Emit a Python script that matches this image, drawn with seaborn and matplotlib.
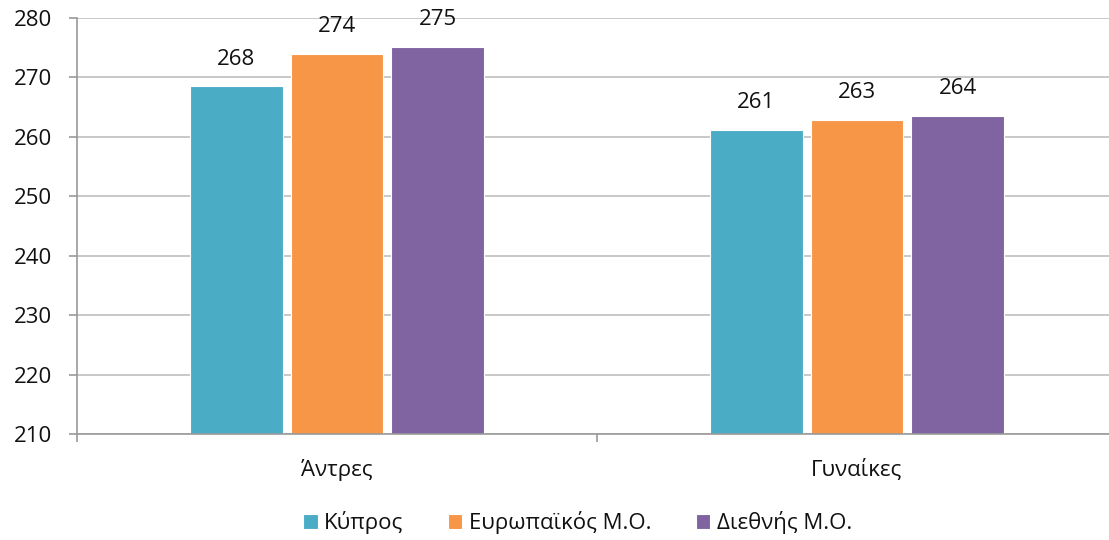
import matplotlib
matplotlib.use('Agg')
import matplotlib.pyplot as plt
import seaborn as sns
import pandas as pd

sns.set_style('white')
plt.rcParams['font.family'] = ['Open Sans', 'DejaVu Sans']

groups = ['Άντρες', 'Γυναίκες']
series = ['Κύπρος', 'Ευρωπαϊκός Μ.Ο.', 'Διεθνής Μ.Ο.']
values = {
    'Κύπρος': [268.5, 261.2],
    'Ευρωπαϊκός Μ.Ο.': [274.0, 262.9],
    'Διεθνής Μ.Ο.': [275.2, 263.5],
}
labels = {
    'Κύπρος': ['268', '261'],
    'Ευρωπαϊκός Μ.Ο.': ['274', '263'],
    'Διεθνής Μ.Ο.': ['275', '264'],
}
colors = ['#4BACC6', '#F79646', '#8064A2']

rows = []
for s in series:
    for g, v in zip(groups, values[s]):
        rows.append({'group': g, 'series': s, 'value': v})
df = pd.DataFrame(rows)

fig = plt.figure(figsize=(11.09, 5.4), dpi=100)
# plot area runs slightly past the right edge, as in the original
ax = fig.add_axes([0.0694, 0.1963, 0.9378, 0.7704])

sns.barplot(data=df, x='group', y='value', hue='series', hue_order=series,
            palette=colors, saturation=1, width=0.58, gap=0.08,
            edgecolor='white', linewidth=0.8, ax=ax, legend=True)

for cont, s in zip(ax.containers, series):
    ax.bar_label(cont, labels=labels[s], padding=12, fontsize=16, color='#111111')

ax.set_ylim(210, 280)
ax.set_yticks(range(210, 281, 10))
ax.set_xlim(-0.5, 1.5)
ax.set_xlabel('')
ax.set_ylabel('')
ax.yaxis.grid(True, color='#BFBFBF', linewidth=1.2)
ax.set_axisbelow(True)
for side in ['top', 'right']:
    ax.spines[side].set_visible(False)
for side in ['left', 'bottom']:
    ax.spines[side].set_color('#999999')
    ax.spines[side].set_linewidth(1.2)

ax.tick_params(axis='y', which='major', direction='out', length=6, width=1.2,
               color='#999999', labelsize=16, labelcolor='#111111', left=True, pad=12)
ax.set_xticks([0, 1])
ax.set_xticklabels(groups)
ax.tick_params(axis='x', which='major', length=0, labelsize=16,
               labelcolor='#111111', pad=18)
ax.set_xticks([-0.5, 0.5, 1.5], minor=True)
ax.tick_params(axis='x', which='minor', direction='out', length=6, width=1.2,
               color='#999999', bottom=True)

handles, lbls = ax.get_legend_handles_labels()
leg = ax.legend(handles, lbls, loc='center', ncol=3, frameon=False, fontsize=16,
                handlelength=0.65, handleheight=0.65, handletextpad=0.3,
                columnspacing=2.0)
leg.set_bbox_to_anchor((0.521, 0.032), transform=fig.transFigure)
for t in leg.get_texts():
    t.set_color('#111111')

fig.savefig('out.png', dpi=100)
